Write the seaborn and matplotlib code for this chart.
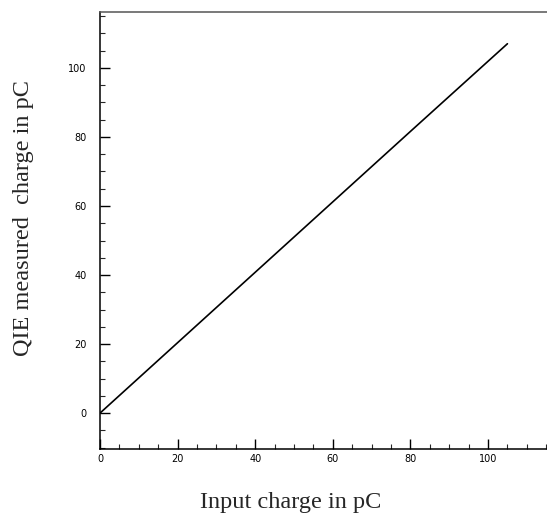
import matplotlib
matplotlib.use("Agg")
import matplotlib.pyplot as plt
import seaborn as sns
import pandas as pd
from matplotlib.ticker import MultipleLocator

# data
input_charge = [0, 20, 40, 60, 80, 105]
measured_charge = [0, 20.4, 40.8, 61.2, 81.6, 107.0]

x_ticks = [0, 20, 40, 60, 80, 100]
y_ticks = [0, 20, 40, 60, 80, 100]

df = pd.DataFrame({"input": input_charge, "measured": measured_charge})

sns.set_style("ticks")
fig = plt.figure(figsize=(5.47, 5.17), dpi=100)
ax = fig.add_axes([0.1828, 0.1315, 0.8172, 0.8453])

sns.lineplot(data=df, x="input", y="measured", color="black", linewidth=1.2, ax=ax)

ax.set_xlim(0, 115.2)
ax.set_ylim(-10.4, 116.2)
ax.set_xticks(x_ticks)
ax.set_yticks(y_ticks)
ax.xaxis.set_minor_locator(MultipleLocator(5))
ax.yaxis.set_minor_locator(MultipleLocator(5))
ax.tick_params(which="major", direction="in", length=7, width=1, labelsize=7,
               colors="black")
ax.tick_params(which="minor", direction="in", length=3.5, width=0.8)
ax.tick_params(axis="x", pad=3.5)
ax.tick_params(axis="y", pad=9.5)

ax.spines["right"].set_visible(False)
for s in ["left", "bottom", "top"]:
    ax.spines[s].set_color("black")
    ax.spines[s].set_linewidth(1.1)
ax.spines["top"].set_color("#555555")

ax.set_xlabel("Input charge in pC", family="Liberation Serif", fontsize=17.5)
ax.set_ylabel("QIE measured  charge in pC", family="Liberation Serif", fontsize=17.5)
# labels sit off-centre in the original
ax.xaxis.set_label_coords(0.427, -0.098)
ax.yaxis.set_label_coords(-0.148, 0.529)

fig.savefig("out.png", dpi=100)
